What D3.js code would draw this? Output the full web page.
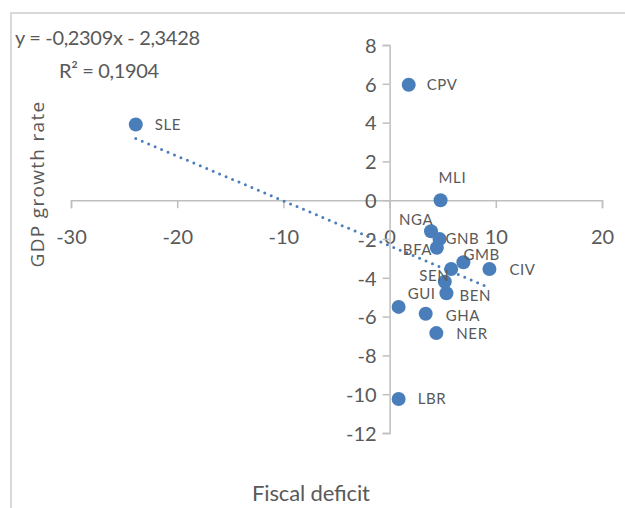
<!DOCTYPE html>
<html>
<head>
<meta charset="utf-8">
<script src="https://cdn.jsdelivr.net/npm/d3@7"></script>
<style>
  body { margin: 0; background: #fff; }
  text { font-family: "Liberation Sans Narrow", "Lato", sans-serif; fill: #595959; }
</style>
</head>
<body>
<script>
// ECOWAS countries: fiscal deficit vs GDP growth rate
let countries = ['CPV', 'SLE', 'MLI', 'NGA', 'GNB', 'BFA', 'GMB', 'CIV', 'SEN', 'TGO', 'BEN', 'GUI', 'GHA', 'NER', 'LBR'];
let deficit = [1.8, -23.9, 4.8, 3.9, 4.7, 4.45, 6.95, 9.4, 5.8, 5.2, 5.35, 0.85, 3.4, 4.4, 0.85];
let growth = [5.95, 3.9, 0, -1.6, -2.0, -2.45, -3.2, -3.55, -3.55, -4.2, -4.8, -5.5, -5.85, -6.85, -10.25];

let xTicks = [-30, -20, -10, 0, 10, 20];
let yTicks = [8, 6, 4, 2, 0, -2, -4, -6, -8, -10, -12];

// trendline as printed on the chart
let slope = -0.2309;
let intercept = -2.3428;
let equation = 'y = -0,2309x - 2,3428';
let r2 = 'R² = 0,1904';

// where each label sits relative to its point (TGO label is hidden in the original)
let labelOffset = {
    CPV: [18, 0], SLE: [19, 0], MLI: [-2, -23], NGA: [-32, -12], GNB: [6, 0],
    BFA: [-34, 2], GMB: [0, -8], CIV: [20, 1], SEN: [-32, 7], BEN: [13, 2],
    GUI: [9, -13], GHA: [20, 2], NER: [20, 1], LBR: [19, 0]
};

let width = 625;
let height = 508;

let data = countries.map((c, i) => ({name: c, x: deficit[i], y: growth[i]}));

let x = d3.scaleLinear().domain([-30, 20]).range([71, 602]);
let y = d3.scaleLinear().domain([-12, 8]).range([433, 45]);

let svg = d3.select('body')
    .append('svg')
    .attr('width', width)
    .attr('height', height);

// chart area frame
svg.append('rect')
    .attr('x', 11).attr('y', 13)
    .attr('width', 700).attr('height', 600)
    .attr('fill', 'none')
    .attr('stroke', '#d9d9d9')
    .attr('stroke-width', 2);

// plain hyphen for negatives, as Excel prints them
let fmt = d => String(d);

// x axis along y = 0, labels pushed down like in Excel
let xAxis = svg.append('g')
    .attr('transform', `translate(0,${y(0)})`)
    .call(d3.axisBottom(x).tickValues(xTicks).tickSize(8).tickPadding(22).tickFormat(fmt));

// y axis along x = 0
let yAxis = svg.append('g')
    .attr('transform', `translate(${x(0)},0)`)
    .call(d3.axisLeft(y).tickValues(yTicks).tickSize(7).tickPadding(6).tickFormat(fmt));

[xAxis, yAxis].forEach(g => {
    g.select('.domain').attr('stroke', '#bfbfbf').attr('stroke-width', 1.5);
    g.selectAll('.tick line').attr('stroke', '#bfbfbf').attr('stroke-width', 1.5);
    g.selectAll('.tick text')
        .attr('fill', '#404040')
        .style('font-size', '20px')
        .style('font-family', '"Liberation Sans Narrow", "Lato", sans-serif');
});
yAxis.selectAll('.tick text').attr('dy', '0.36em');

// dotted linear trendline over the data range
let xExt = d3.extent(deficit);
svg.append('line')
    .attr('x1', x(xExt[0])).attr('y1', y(slope * xExt[0] + intercept))
    .attr('x2', x(xExt[1])).attr('y2', y(slope * xExt[1] + intercept))
    .attr('stroke', '#4a7ebb')
    .attr('stroke-width', 3)
    .attr('stroke-linecap', 'round')
    .attr('stroke-dasharray', '0 7');

svg.append('g')
    .selectAll('circle')
    .data(data)
    .enter().append('circle')
      .attr('cx', d => x(d.x))
      .attr('cy', d => y(d.y))
      .attr('r', 7)
      .attr('fill', '#4a7ebb');

svg.append('g')
    .selectAll('text')
    .data(data.filter(d => labelOffset[d.name]))
    .enter().append('text')
      .attr('x', d => x(d.x) + labelOffset[d.name][0])
      .attr('y', d => y(d.y) + labelOffset[d.name][1])
      .attr('dy', '0.36em')
      .style('font-size', '15px')
      .style('letter-spacing', '0.6px')
      .text(d => d.name);

// trendline equation
svg.append('text')
    .attr('x', 15).attr('y', 45)
    .attr('textLength', 185)
    .style('font-size', '20px')
    .attr('fill', '#404040')
    .text(equation);

svg.append('text')
    .attr('x', 59).attr('y', 78)
    .attr('textLength', 100)
    .style('font-size', '20px')
    .attr('fill', '#404040')
    .text(r2);

// axis titles
svg.append('text')
    .attr('transform', `translate(44,184) rotate(-90)`)
    .attr('text-anchor', 'middle')
    .style('font-family', '"Open Sans", sans-serif')
    .style('font-size', '19px')
    .style('letter-spacing', '1.3px')
    .text('GDP growth rate');

svg.append('text')
    .attr('x', 311).attr('y', 501)
    .attr('text-anchor', 'middle')
    .attr('textLength', 118)
    .style('font-size', '22px')
    .text('Fiscal deficit');
</script>
</body>
</html>
